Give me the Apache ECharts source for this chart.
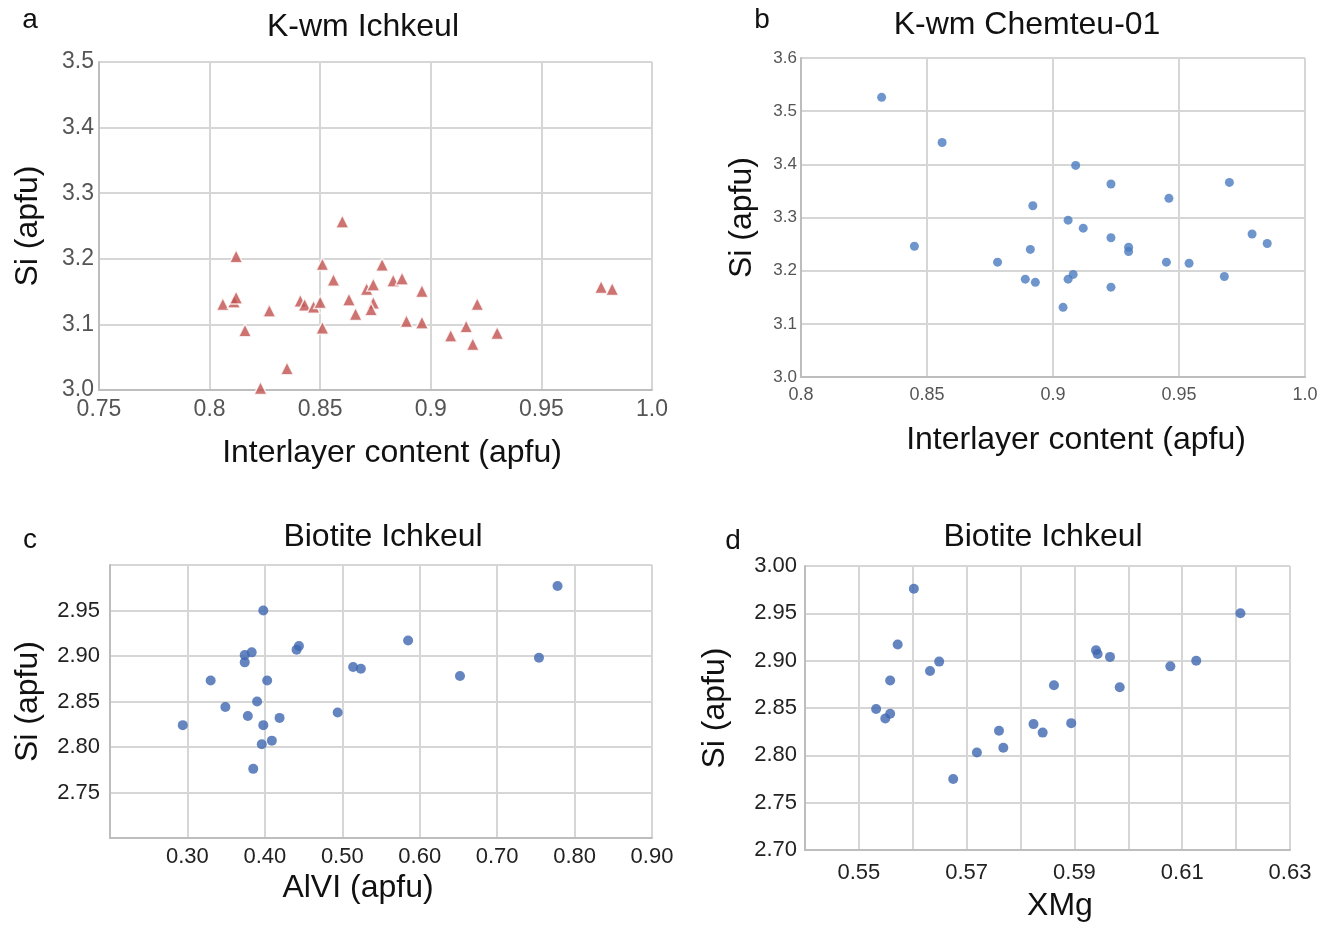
<!DOCTYPE html>
<html>
<head>
<meta charset="utf-8">
<script src="https://cdn.jsdelivr.net/npm/echarts@6/dist/echarts.min.js"></script>
<style>html,body{margin:0;padding:0;background:#fff}#c{width:1334px;height:926px}</style>
</head>
<body>
<div id="c"></div>
<script>
// Panel a: K-wm Ichkeul  [interlayer content, Si]
const panelA = [
  [0.806,3.131],[0.811,3.135],[0.812,3.141],[0.812,3.204],[0.816,3.091],[0.827,3.121],
  [0.823,3.003],[0.835,3.033],[0.841,3.136],[0.843,3.130],[0.847,3.127],[0.850,3.134],
  [0.851,3.192],[0.851,3.095],[0.856,3.168],[0.860,3.257],[0.863,3.138],[0.866,3.116],
  [0.871,3.154],[0.874,3.161],[0.874,3.133],[0.873,3.123],[0.878,3.191],[0.883,3.167],
  [0.887,3.170],[0.889,3.105],[0.896,3.151],[0.896,3.103],[0.909,3.083],[0.916,3.097],
  [0.919,3.070],[0.921,3.131],[0.930,3.087],[0.977,3.157],[0.982,3.154]
];
// Panel b: K-wm Chemteu-01
const panelB = [
  [0.832,3.526],[0.856,3.441],[0.845,3.246],[0.878,3.216],[0.889,3.184],[0.893,3.178],
  [0.891,3.240],[0.892,3.322],[0.904,3.131],[0.906,3.184],[0.908,3.193],[0.906,3.295],
  [0.909,3.398],[0.912,3.280],[0.923,3.363],[0.923,3.262],[0.923,3.169],[0.930,3.244],
  [0.930,3.236],[0.945,3.216],[0.946,3.336],[0.954,3.214],[0.968,3.189],[0.970,3.366],
  [0.979,3.269],[0.985,3.251]
];
// Panel c: Biotite Ichkeul [AlVI, Si]
const panelC = [
  [0.294,2.824],[0.330,2.873],[0.349,2.844],[0.374,2.901],[0.374,2.893],[0.383,2.904],
  [0.378,2.834],[0.390,2.850],[0.385,2.776],[0.398,2.950],[0.398,2.824],[0.396,2.803],
  [0.403,2.873],[0.409,2.807],[0.419,2.832],[0.441,2.907],[0.444,2.911],[0.494,2.838],
  [0.514,2.888],[0.524,2.886],[0.585,2.917],[0.652,2.878],[0.754,2.898],[0.778,2.977]
];
// Panel d: Biotite Ichkeul [XMg, Si]
const panelD = [
  [0.5532,2.849],[0.5549,2.839],[0.5558,2.844],[0.5558,2.879],[0.5572,2.917],[0.5602,2.976],
  [0.5632,2.889],[0.5649,2.899],[0.5675,2.775],[0.5719,2.803],[0.5760,2.826],[0.5768,2.808],
  [0.5824,2.833],[0.5841,2.824],[0.5862,2.874],[0.5894,2.834],[0.5940,2.911],[0.5943,2.907],
  [0.5966,2.904],[0.5984,2.872],[0.6078,2.894],[0.6126,2.900],[0.6208,2.950]
];
const titles = ['K-wm Ichkeul','K-wm Chemteu-01','Biotite Ichkeul','Biotite Ichkeul'];
const letters = ['a','b','c','d'];
const xNames = ['Interlayer content (apfu)','Interlayer content (apfu)','AlVI (apfu)','XMg'];
const yName = 'Si (apfu)';

const FONT = '"Liberation Sans", Arial, sans-serif';
const fmtMin1 = v => { const s = String(+(+v).toFixed(4)); return s.indexOf('.') >= 0 ? s : s + '.0'; };
const fix1 = v => (+v).toFixed(1);
const fix2 = v => (+v).toFixed(2);
const oddHundredth = v => (Math.round(v * 100) % 2 === 1) ? (+v).toFixed(2) : '';

const grids = [
  {left: 99, top: 62, width: 553, height: 328},
  {left: 801, top: 58, width: 504, height: 319},
  {left: 110, top: 565, width: 542, height: 273},
  {left: 805, top: 566, width: 485, height: 284}
];
const gridLine = {show: true, lineStyle: {color: '#d6d6d6', width: 2}};
const axLine = {show: true, lineStyle: {color: '#bdbdbd', width: 2}};

function xAxis(i, min, max, interval, fmt, fs, color, margin, gap, pad) {
  return {
    type: 'value', gridIndex: i, min, max, interval,
    axisLine: axLine, axisTick: {show: false}, splitLine: gridLine,
    axisLabel: {formatter: fmt, fontSize: fs, color, fontFamily: FONT, margin},
    name: xNames[i], nameLocation: 'middle', nameGap: gap,
    nameTextStyle: {fontSize: 32, color: '#111', fontFamily: FONT, padding: pad}
  };
}
function yAxis(i, min, max, interval, fmt, fs, color, margin, gap, labelExtra) {
  return {
    type: 'value', gridIndex: i, min, max, interval,
    axisLine: axLine, axisTick: {show: false}, splitLine: gridLine,
    axisLabel: Object.assign({formatter: fmt, fontSize: fs, color, fontFamily: FONT, margin}, labelExtra || {}),
    name: yName, nameLocation: 'middle', nameGap: gap,
    nameTextStyle: {fontSize: 32, color: '#111', fontFamily: FONT}
  };
}

const textPos = [
  {t: [363, 27], l: [30, 20]},
  {t: [1027, 25], l: [762, 20]},
  {t: [383, 537], l: [30, 540]},
  {t: [1043, 537], l: [733, 541]}
];
const graphic = [];
textPos.forEach((p, i) => {
  graphic.push({type: 'text', x: p.t[0], y: p.t[1], style: {text: titles[i], font: '32px ' + FONT, fill: '#111', textAlign: 'center', textVerticalAlign: 'middle', align: 'center', verticalAlign: 'middle'}});
  graphic.push({type: 'text', x: p.l[0], y: p.l[1], style: {text: letters[i], font: '28px ' + FONT, fill: '#111', textAlign: 'center', textVerticalAlign: 'middle', align: 'center', verticalAlign: 'middle'}});
});

const option = {
  animation: false,
  backgroundColor: '#fff',
  grid: grids,
  graphic,
  xAxis: [
    xAxis(0, 0.75, 1.0, 0.05, fmtMin1, 23, '#555', 8, 47, [0, 0, 0, 33]),
    xAxis(1, 0.8, 1.0, 0.05, fmtMin1, 18, '#555', 9, 47, [0, 0, 0, 46]),
    xAxis(2, 0.2, 0.9, 0.1, fix2, 22, '#222', 8, 34, [0, 46, 0, 0]),
    xAxis(3, 0.54, 0.63, 0.01, oddHundredth, 22, '#222', 12, 40, [0, 0, 0, 25])
  ],
  yAxis: [
    yAxis(0, 3.0, 3.5, 0.1, fix1, 23, '#555', 5, 55),
    yAxis(1, 3.0, 3.6, 0.1, fix1, 17, '#555', 4, 43),
    yAxis(2, 2.7, 3.0, 0.05, fix2, 22, '#222', 10, 66, {showMinLabel: false, showMaxLabel: false}),
    yAxis(3, 2.7, 3.0, 0.05, fix2, 22, '#222', 8, 74)
  ],
  series: [
    {type: 'scatter', xAxisIndex: 0, yAxisIndex: 0, data: panelA, symbol: 'triangle', symbolSize: 13,
     itemStyle: {color: '#c0504d', borderColor: '#fff', borderWidth: 1.5}},
    {type: 'scatter', xAxisIndex: 1, yAxisIndex: 1, data: panelB, symbol: 'circle', symbolSize: 9,
     itemStyle: {color: '#4a7cc0'}},
    {type: 'scatter', xAxisIndex: 2, yAxisIndex: 2, data: panelC, symbol: 'circle', symbolSize: 10,
     itemStyle: {color: '#3d67b0'}},
    {type: 'scatter', xAxisIndex: 3, yAxisIndex: 3, data: panelD, symbol: 'circle', symbolSize: 10,
     itemStyle: {color: '#3d67b0'}}
  ]
};
// the 0.20 tick of panel c carries no label
option.xAxis[2].axisLabel.showMinLabel = false;

const chart = echarts.init(document.getElementById('c'), null, {renderer: 'canvas'});
chart.setOption(option);
</script>
</body>
</html>
